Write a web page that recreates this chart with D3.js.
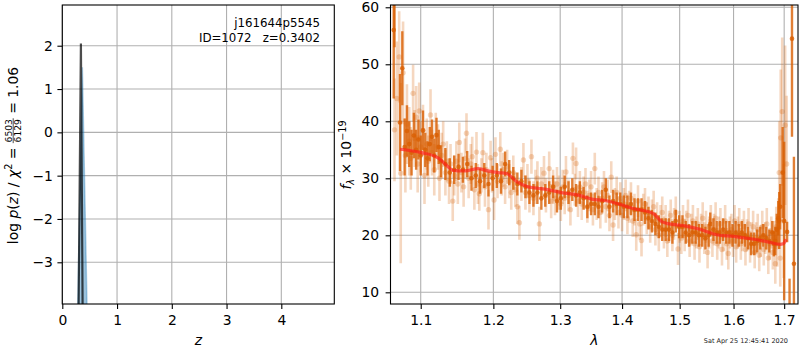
<!DOCTYPE html>
<html><head><meta charset="utf-8">
<script src="https://cdn.jsdelivr.net/npm/d3@7"></script>
<style>
body{margin:0;background:#fff;}
svg{font-family:"DejaVu Sans",sans-serif;}
text{white-space:pre;}
</style></head><body>
<svg id="c" width="800" height="350"></svg>
<script>
// ---------------- DATA ----------------
// left panel: log p(z) (black line) and blue filled profile
const pzZ   = [0.291, 0.340, 0.376];
const pzLog = [-5.0, 2.05, -5.0];
const blueZ   = [0.267, 0.366, 0.467];
const blueLog = [-5.0, 1.50, -5.0];
const zTicks = [0, 1, 2, 3, 4];
const pTicks = [-3, -2, -1, 0, 1, 2];

// right panel: spectrum [wavelength, flux, error]
const lightPoints = [[1.066,38.5,9.0],[1.069,44.0,10.0],[1.072,51.3,8.0],[1.074,30.9,15.8],[1.077,48.5,9.0],[1.080,34.0,6.5],[1.082,39.5,7.0],[1.085,36.5,6.0],[1.087,33.5,5.5],[1.090,44.9,5.0],[1.092,37.0,5.0],[1.094,40.7,5.5],[1.096,32.5,5.0],[1.098,41.8,5.0],[1.100,35.5,4.5],[1.103,38.4,4.5],[1.105,30.5,5.0],[1.108,36.0,4.5],[1.110,33.0,4.5],[1.113,41.1,4.5],[1.115,34.5,4.0],[1.118,31.5,4.5],[1.120,37.5,4.0],[1.123,35.5,4.0],[1.125,30.0,4.0],[1.128,34.0,4.0],[1.130,36.0,4.0],[1.133,31.0,4.0],[1.135,33.0,3.5],[1.138,29.5,4.0],[1.140,32.5,3.5],[1.143,26.0,3.5],[1.145,30.5,3.5],[1.148,33.0,3.5],[1.150,29.0,3.5],[1.152,36.3,3.5],[1.155,31.0,3.5],[1.158,28.5,3.5],[1.160,33.5,3.5],[1.162,37.9,3.5],[1.165,30.0,3.5],[1.168,32.5,3.5],[1.170,33.8,3.5],[1.173,28.0,3.5],[1.176,34.6,3.5],[1.178,29.0,3.5],[1.180,27.3,3.0],[1.183,30.5,3.0],[1.185,34.5,3.5],[1.188,28.5,3.5],[1.190,31.5,3.0],[1.193,24.5,3.5],[1.196,33.6,3.0],[1.198,30.5,3.0],[1.201,26.2,3.5],[1.203,34.2,3.0],[1.206,29.5,3.0],[1.210,35.1,3.0],[1.212,30.0,3.0],[1.214,31.5,3.0],[1.217,28.5,3.0],[1.220,32.0,3.0],[1.223,29.5,3.0],[1.226,27.5,3.0],[1.229,31.0,3.0],[1.232,28.0,3.0],[1.235,25.0,3.0],[1.238,22.2,3.0],[1.241,29.0,3.0],[1.244,33.2,3.0],[1.247,27.5,3.0],[1.250,29.5,3.0],[1.253,27.0,3.0],[1.256,33.8,3.0],[1.259,26.5,3.0],[1.262,28.5,3.0],[1.265,30.0,3.0],[1.268,22.0,3.0],[1.271,29.0,3.0],[1.275,30.9,3.0],[1.278,27.0,3.0],[1.283,31.7,3.0],[1.286,26.0,3.0],[1.289,28.5,3.0],[1.292,26.5,3.0],[1.295,29.0,3.0],[1.298,27.5,3.0],[1.301,25.5,3.0],[1.304,28.5,3.0],[1.307,26.5,2.8],[1.309,31.1,2.8],[1.313,27.0,2.8],[1.316,24.5,2.8],[1.320,33.5,2.8],[1.323,28.0,2.8],[1.325,32.6,2.8],[1.328,26.0,2.8],[1.331,28.5,2.8],[1.334,25.5,2.8],[1.337,27.5,2.8],[1.340,29.0,2.8],[1.343,25.0,2.8],[1.346,27.0,2.8],[1.349,28.5,2.8],[1.352,24.5,2.8],[1.355,31.7,2.8],[1.358,25.5,2.8],[1.361,27.5,2.8],[1.364,24.0,2.8],[1.367,26.5,2.8],[1.370,28.5,2.8],[1.373,25.0,2.8],[1.376,27.0,2.8],[1.379,23.5,2.8],[1.382,30.2,2.8],[1.385,21.8,2.8],[1.388,25.5,2.8],[1.391,27.5,2.8],[1.394,24.0,2.8],[1.397,26.5,2.8],[1.400,23.5,2.8],[1.403,25.5,2.8],[1.406,27.0,2.8],[1.409,23.0,2.8],[1.412,25.0,2.8],[1.415,26.5,2.8],[1.418,22.5,2.8],[1.421,24.5,2.8],[1.424,20.1,2.8],[1.427,26.0,2.8],[1.430,22.0,2.8],[1.433,19.1,2.8],[1.436,24.5,2.8],[1.439,25.5,2.8],[1.442,23.0,2.8],[1.445,24.0,2.8],[1.448,21.5,2.8],[1.451,23.5,2.8],[1.454,25.0,2.8],[1.457,21.0,2.8],[1.460,23.0,2.8],[1.463,20.0,2.8],[1.466,22.5,2.8],[1.469,24.0,2.8],[1.472,20.5,2.8],[1.475,22.5,2.8],[1.478,19.0,2.8],[1.481,21.5,2.8],[1.484,23.5,2.8],[1.487,20.0,2.8],[1.490,22.0,2.8],[1.493,24.0,2.8],[1.497,17.6,2.8],[1.500,21.5,2.8],[1.503,19.5,2.8],[1.506,22.5,2.8],[1.509,20.0,2.8],[1.512,21.5,2.8],[1.515,23.5,2.8],[1.518,19.0,2.8],[1.521,21.0,2.8],[1.524,22.5,2.8],[1.527,18.5,2.8],[1.530,20.5,2.8],[1.533,22.0,2.8],[1.536,18.0,2.8],[1.539,21.0,2.8],[1.542,23.0,2.8],[1.545,19.5,2.8],[1.548,21.5,2.8],[1.551,17.0,2.8],[1.554,20.5,2.8],[1.557,22.5,2.8],[1.560,19.0,2.8],[1.563,21.0,2.8],[1.566,23.0,2.8],[1.569,18.5,2.8],[1.572,20.5,2.8],[1.575,22.0,2.8],[1.578,17.5,2.8],[1.581,20.0,2.8],[1.584,22.5,2.8],[1.587,18.5,2.8],[1.590,16.8,2.8],[1.593,20.5,2.8],[1.596,21.0,2.8],[1.599,19.0,2.8],[1.602,22.5,2.8],[1.605,18.0,2.8],[1.608,20.5,2.8],[1.611,22.0,2.8],[1.614,18.5,2.8],[1.617,20.0,2.8],[1.620,21.5,2.8],[1.623,17.5,2.8],[1.626,20.0,2.8],[1.629,22.0,2.8],[1.632,18.0,2.8],[1.635,19.5,2.8],[1.638,21.5,2.8],[1.641,17.0,2.8],[1.644,19.5,2.8],[1.647,21.0,2.8],[1.650,16.5,2.8],[1.653,19.0,2.8],[1.656,21.5,2.8],[1.659,17.5,2.8],[1.662,19.5,2.8],[1.665,22.0,2.8],[1.668,16.0,2.8],[1.671,18.5,2.8],[1.674,20.5,2.8],[1.677,17.0,3.0],[1.680,19.5,3.0],[1.682,15.0,3.5],[1.684,21.5,3.5],[1.686,18.0,3.5],[1.688,22.5,4.0],[1.690,31.0,9.0],[1.692,16.0,5.0],[1.693,37.1,12.0],[1.696,41.7,13.0],[1.699,22.5,10.0],[1.702,39.3,14.0],[1.705,32.5,12.0]];

const darkPoints = [[1.065,56.0,12.0],[1.066,63.0,10.0],[1.073,39.8,8.5],[1.076,49.3,6.5],[1.079,35.5,5.0],[1.082,38.3,4.5],[1.085,36.0,4.0],[1.088,34.5,4.0],[1.091,37.5,4.0],[1.094,35.0,3.5],[1.097,36.8,3.5],[1.100,34.0,3.5],[1.103,38.4,3.5],[1.106,35.0,3.0],[1.109,33.5,3.0],[1.112,36.0,3.0],[1.115,37.3,3.0],[1.118,34.0,3.0],[1.121,37.6,3.0],[1.124,35.5,3.0],[1.127,33.0,2.8],[1.133,32.5,2.8],[1.139,31.0,2.5],[1.145,31.5,2.5],[1.151,32.0,2.3],[1.157,31.5,2.3],[1.163,32.5,2.3],[1.169,30.0,2.2],[1.175,30.5,2.2],[1.181,29.5,2.2],[1.187,30.5,2.2],[1.193,29.0,2.2],[1.199,30.0,2.2],[1.205,30.5,2.2],[1.211,29.5,2.2],[1.217,32.5,2.2],[1.223,31.0,2.2],[1.229,30.0,2.0],[1.235,29.0,2.0],[1.241,29.5,2.0],[1.247,28.5,2.0],[1.253,27.5,2.0],[1.259,27.0,2.0],[1.265,27.5,2.0],[1.271,26.5,2.0],[1.277,27.0,2.0],[1.283,27.5,2.0],[1.289,28.5,2.0],[1.295,26.0,2.0],[1.301,26.5,2.0],[1.307,28.5,2.0],[1.313,27.5,2.0],[1.319,28.0,2.0],[1.325,27.0,2.0],[1.331,27.5,2.0],[1.337,26.5,2.0],[1.343,25.0,2.0],[1.349,25.5,2.0],[1.355,25.5,2.0],[1.361,25.0,2.0],[1.367,26.0,2.0],[1.373,28.0,2.0],[1.379,25.0,2.0],[1.385,26.0,2.0],[1.391,25.5,2.0],[1.397,25.5,2.0],[1.403,25.0,2.0],[1.409,25.0,2.0],[1.415,25.5,2.0],[1.421,24.5,2.0],[1.427,24.5,2.0],[1.433,24.5,2.0],[1.439,24.0,2.0],[1.445,23.0,2.0],[1.451,22.5,2.0],[1.457,22.0,2.0],[1.463,21.5,2.0],[1.469,21.0,2.0],[1.475,21.0,2.0],[1.481,21.0,2.0],[1.487,20.5,2.0],[1.493,22.5,2.0],[1.499,21.5,2.0],[1.505,21.5,2.0],[1.511,20.5,2.0],[1.517,20.0,2.0],[1.523,20.5,2.0],[1.529,20.5,2.0],[1.535,20.0,2.0],[1.541,20.0,2.0],[1.547,19.5,2.0],[1.553,20.0,2.0],[1.556,22.0,2.0],[1.562,21.0,2.0],[1.568,20.5,2.0],[1.574,20.5,2.0],[1.580,21.0,2.0],[1.586,20.5,2.0],[1.592,20.5,2.0],[1.598,20.0,2.0],[1.604,20.5,2.0],[1.610,20.0,2.0],[1.616,20.5,2.0],[1.622,20.0,2.0],[1.628,19.5,2.0],[1.634,18.5,2.0],[1.640,18.5,2.0],[1.646,19.0,2.0],[1.652,19.5,2.0],[1.658,20.0,2.0],[1.664,19.5,2.0],[1.670,19.0,2.0],[1.676,20.5,2.0],[1.679,18.5,2.2],[1.682,19.0,2.5],[1.685,21.0,2.8],[1.688,23.0,3.0],[1.690,22.6,5.0],[1.692,25.0,4.0],[1.697,31.0,8.0],[1.700,22.5,13.9],[1.706,20.6,1.8],[1.711,5.0,7.4],[1.716,54.5,17.2],[1.720,15.0,18.8]];

const modelWave = [1.073,1.101,1.123,1.137,1.143,1.160,1.178,1.192,1.207,1.219,1.234,1.251,1.277,1.302,1.329,1.350,1.372,1.397,1.419,1.453,1.468,1.477,1.507,1.537,1.568,1.600,1.633,1.665,1.692,1.698,1.704];
const modelFlux = [35.1,34.5,33.6,32.0,31.4,31.3,31.7,31.3,31.0,30.85,29.4,28.5,28.1,27.5,27.05,26.35,26.1,25.4,24.7,23.85,22.4,22.1,21.7,21.05,20.1,19.8,19.4,18.9,18.4,18.5,19.3];

const waveTicks = [1.1, 1.2, 1.3, 1.4, 1.5, 1.6, 1.7];
const fluxTicks = [10, 20, 30, 40, 50, 60];

// ---------------- DRAW ----------------
const svg = d3.select("#c");
svg.append("rect").attr("width",800).attr("height",350).attr("fill","#fff");
const defs = svg.append("defs");

const L = {x0:62.3, x1:334.3, y0:5, y1:304};
const R = {x0:390.5, x1:798, y0:5, y1:304};
const FS = 13.9, TL = 4.9;
const orange = "#d95f02";

const xz = d3.scaleLinear().domain([0,4.968]).range([L.x0,L.x1]);
const yz = d3.scaleLinear().domain([-3.963,2.94]).range([L.y1,L.y0]);
const xl = d3.scaleLog().domain([1.0609,1.7284]).range([R.x0,R.x1]);
const yf = d3.scaleLinear().domain([7.95,60.4]).range([R.y1,R.y0]);

function clip(id, b){
  defs.append("clipPath").attr("id",id).append("rect")
    .attr("x",b.x0).attr("y",b.y0).attr("width",b.x1-b.x0).attr("height",b.y1-b.y0);
}
clip("cl",L); clip("cr",R);

function grid(b, xs, xt, ys, yt){
  const g = svg.append("g").attr("stroke","#b0b0b0").attr("stroke-width",1.1);
  xt.forEach(t=>g.append("line").attr("x1",xs(t)).attr("x2",xs(t)).attr("y1",b.y0).attr("y2",b.y1));
  yt.forEach(t=>g.append("line").attr("y1",ys(t)).attr("y2",ys(t)).attr("x1",b.x0).attr("x2",b.x1));
}
grid(L, xz, zTicks, yz, pTicks);
grid(R, xl, waveTicks, yf, fluxTicks);

// ---- left panel marks
const gl = svg.append("g").attr("clip-path","url(#cl)");
const blueData = blueZ.map((z,i)=>[z,blueLog[i]]);
gl.append("path").datum(blueData)
  .attr("d", d3.area().x(d=>xz(d[0])).y0(yz(-5)).y1(d=>yz(d[1])))
  .attr("fill","#1f77b4").attr("fill-opacity",0.45)
  .attr("stroke","#1f77b4").attr("stroke-opacity",0.35).attr("stroke-width",1.5);
const pzData = pzZ.map((z,i)=>[z,pzLog[i]]);
gl.append("path").datum(pzData)
  .attr("d", d3.line().x(d=>xz(d[0])).y(d=>yz(d[1])))
  .attr("fill","none").attr("stroke","#000").attr("stroke-opacity",0.7).attr("stroke-width",2.2);

// ---- right panel marks
const gr = svg.append("g").attr("clip-path","url(#cr)");
function errSeries(data, op, r, w){
  const g = gr.append("g");
  g.selectAll("line").data(data).join("line")
    .attr("x1",d=>xl(d[0])).attr("x2",d=>xl(d[0]))
    .attr("y1",d=>yf(d[1]-d[2])).attr("y2",d=>yf(d[1]+d[2]))
    .attr("stroke",orange).attr("stroke-opacity",op).attr("stroke-width",w);
  g.selectAll("circle").data(data).join("circle")
    .attr("cx",d=>xl(d[0])).attr("cy",d=>yf(d[1])).attr("r",r)
    .attr("fill",orange).attr("fill-opacity",op);
}
errSeries(lightPoints, 0.25, 2.7, 2.6);
errSeries(darkPoints, 0.8, 2.3, 2.4);
const modelData = modelWave.map((w,i)=>[w,modelFlux[i]]);
gr.append("path").datum(modelData)
  .attr("d", d3.line().curve(d3.curveMonotoneX).x(d=>xl(d[0])).y(d=>yf(d[1])))
  .attr("fill","none").attr("stroke","#ff1a1a").attr("stroke-opacity",0.65).attr("stroke-width",3.2);

// ---- axes
function styleAxis(g){
  g.select(".domain").remove();
  g.selectAll(".tick line").attr("stroke","#000").attr("stroke-width",1.1);
  g.selectAll(".tick text").attr("fill","#000").attr("font-size",FS).attr("font-family","DejaVu Sans");
}
svg.append("g").attr("transform",`translate(0,${L.y1})`)
  .call(d3.axisBottom(xz).tickValues(zTicks).tickSize(TL).tickPadding(6).tickFormat(d3.format("d"))).call(styleAxis);
svg.append("g").attr("transform",`translate(${L.x0},0)`)
  .call(d3.axisLeft(yz).tickValues(pTicks).tickSize(TL).tickPadding(4.5).tickFormat(d3.format("d"))).call(styleAxis);
svg.append("g").attr("transform",`translate(0,${R.y1})`)
  .call(d3.axisBottom(xl).tickValues(waveTicks).tickSize(TL).tickPadding(6).tickFormat(d=>d.toFixed(1))).call(styleAxis);
svg.append("g").attr("transform",`translate(${R.x0},0)`)
  .call(d3.axisLeft(yf).tickValues(fluxTicks).tickSize(TL).tickPadding(6.5).tickFormat(d3.format("d"))).call(styleAxis);

// spines
[L,R].forEach(b=>svg.append("rect").attr("x",b.x0).attr("y",b.y0)
  .attr("width",b.x1-b.x0).attr("height",b.y1-b.y0)
  .attr("fill","none").attr("stroke","#000").attr("stroke-width",1.1));

// ---- texts
svg.append("text").attr("x",320).attr("y",26.8).attr("text-anchor","end").attr("font-size",11.8).text("j161644p5545");
svg.append("text").attr("x",320).attr("y",42).attr("text-anchor","end").attr("font-size",11.8).text("ID=1072   z=0.3402");

svg.append("text").attr("x",(L.x0+L.x1)/2).attr("y",345).attr("text-anchor","middle")
  .attr("font-size",FS).attr("font-style","italic").text("z");
svg.append("text").attr("x",(R.x0+R.x1)/2).attr("y",345).attr("text-anchor","middle")
  .attr("font-size",FS).attr("font-style","italic").text("λ");

svg.append("text").attr("x",788).attr("y",342.5).attr("text-anchor","end").attr("font-size",6.5).attr("fill","#222")
  .text("Sat Apr 25 12:45:41 2020");

// left y label with fraction
(function(){
  const g = svg.append("g").attr("transform","translate(17.5,155.5) rotate(-90)");
  const t1 = g.append("text").attr("font-size",FS);
  t1.append("tspan").text("log ");
  t1.append("tspan").attr("font-style","italic").text("p");
  t1.append("tspan").text("(");
  t1.append("tspan").attr("font-style","italic").text("z");
  t1.append("tspan").text(") / ");
  t1.append("tspan").attr("font-style","italic").text("χ");
  t1.append("tspan").attr("font-size",9.7).attr("dy",-5.5).text("2");
  t1.append("tspan").attr("dy",5.5).text(" = ");
  const fsF = 9.2;
  const num = g.append("text").attr("font-size",fsF).attr("text-anchor","middle").text("6503");
  const den = g.append("text").attr("font-size",fsF).attr("text-anchor","middle").text("6129");
  const t3 = g.append("text").attr("font-size",FS).text(" = 1.06");
  const L1 = t1.node().getComputedTextLength();
  const Wf = Math.max(num.node().getComputedTextLength(), den.node().getComputedTextLength()) + 1.5;
  const L3 = t3.node().getComputedTextLength();
  const x0 = -(L1+Wf+L3)/2;
  t1.attr("x",x0);
  const fc = x0+L1+Wf/2;
  num.attr("x",fc).attr("y",-5.8);
  den.attr("x",fc).attr("y",3.6);
  g.append("line").attr("x1",x0+L1).attr("x2",x0+L1+Wf).attr("y1",-4.3).attr("y2",-4.3)
    .attr("stroke","#000").attr("stroke-width",0.7);
  t3.attr("x",x0+L1+Wf);
})();

// right y label
(function(){
  const g = svg.append("g").attr("transform","translate(351,155) rotate(-90)");
  const t = g.append("text").attr("font-size",FS).attr("text-anchor","middle");
  t.append("tspan").attr("font-style","italic").text("f");
  t.append("tspan").attr("font-style","italic").attr("font-size",9.7).attr("dy",3).text("λ");
  t.append("tspan").attr("dy",-3).text(" × 10");
  t.append("tspan").attr("font-size",9.7).attr("dy",-5.5).text("−19");
})();
</script>
</body></html>
